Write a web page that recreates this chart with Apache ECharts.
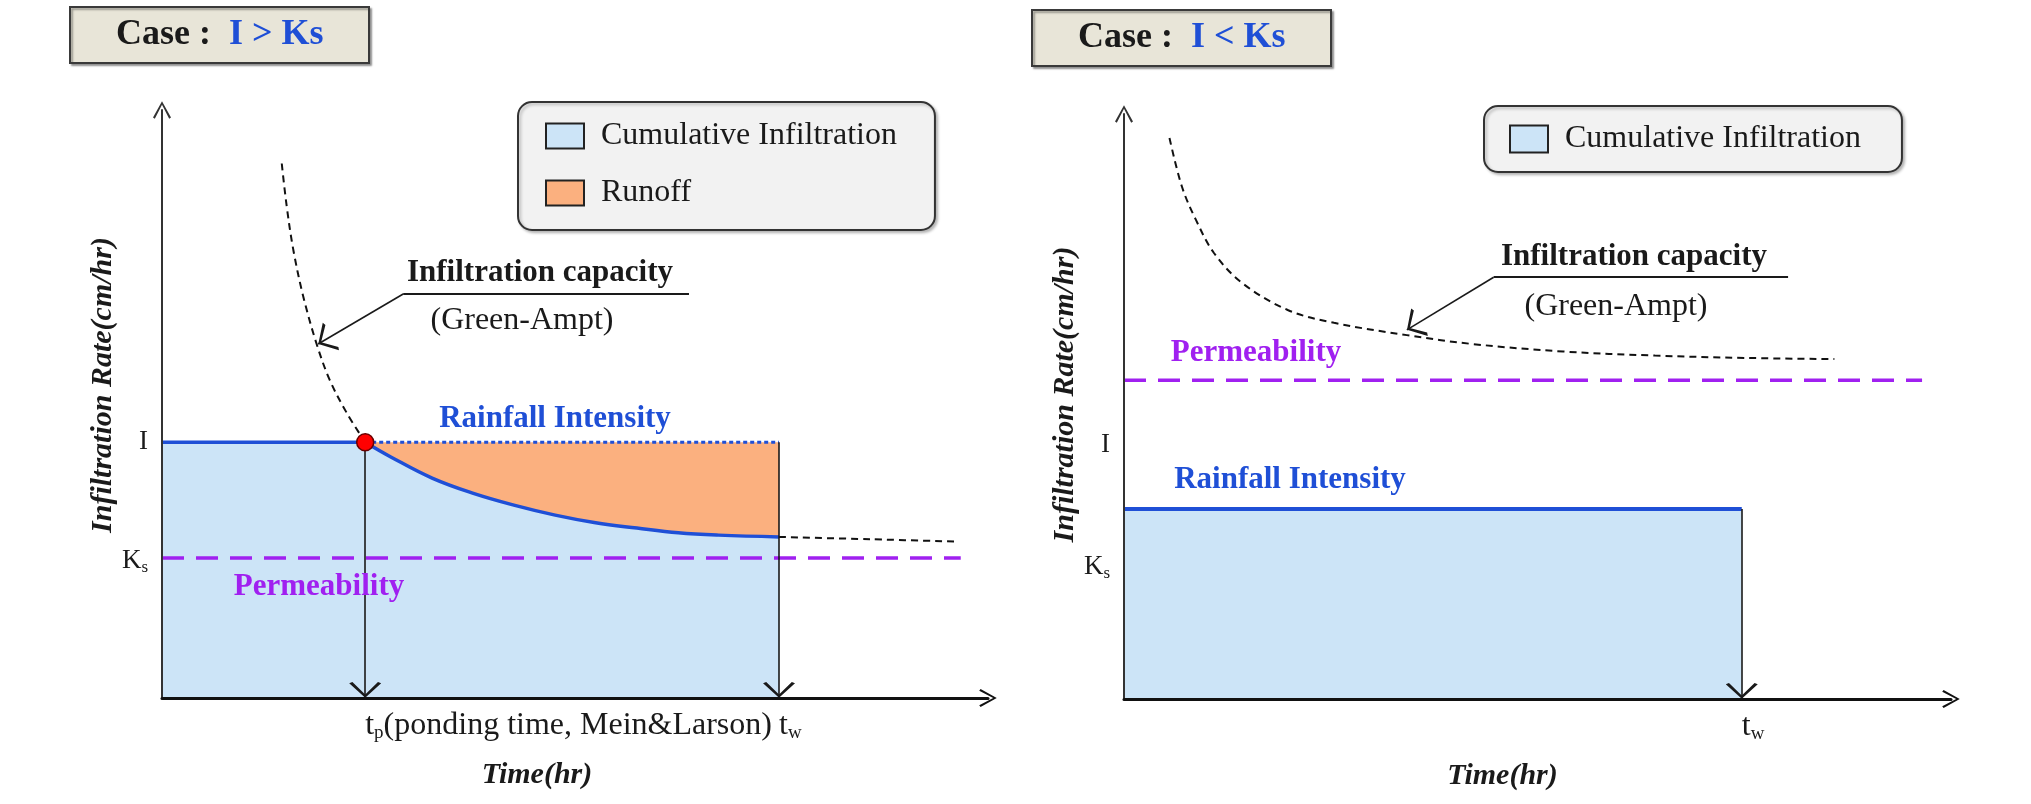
<!DOCTYPE html>
<html>
<head>
<meta charset="utf-8">
<title>Infiltration capacity - Green-Ampt</title>
<script src="https://cdn.jsdelivr.net/npm/echarts@6/dist/echarts.min.js"></script>
<style>
  html, body { margin: 0; padding: 0; background: #fff; }
  #chart { width: 2031px; height: 804px; }
</style>
</head>
<body>
<div id="chart"></div>
<script>
// ---- values (schematic units, both axes 0..10) ----
// left panel : case I > Ks
const rainI = 4.35;        // rainfall intensity I
const ksLeft = 2.38;       // permeability Ks
const tpLeft = 2.46;       // ponding time
const twLeft = 7.47;       // end of rain
const permEndLeft = 9.67;
// infiltration capacity before ponding (dashed)
const capBeforeX = [1.45, 1.51, 1.59, 1.71, 1.87, 2.03, 2.24, 2.46];
const capBeforeY = [9.09, 8.36, 7.62, 6.83, 6.03, 5.41, 4.84, 4.35];
// infiltration rate after ponding (solid blue)
const infAfterX = [2.46, 2.77, 3.27, 3.77, 4.26, 4.76, 5.25, 5.75, 6.25, 6.74, 7.47];
const infAfterY = [4.35, 4.10, 3.74, 3.48, 3.28, 3.11, 2.98, 2.89, 2.81, 2.77, 2.74];
// capacity after the rain stops (dashed)
const capAfterX = [7.47, 8.57, 9.65];
const capAfterY = [2.74, 2.70, 2.66];
// leader line of the "Infiltration capacity" note
const leaderLeftX = [6.38, 2.92, 1.89];
const leaderLeftY = [6.87, 6.87, 6.02];

// right panel : case I < Ks
const rainR = 3.25;
const ksRight = 5.45;
const twRight = 7.47;
const permEndRight = 9.65;
const capRightX = [0.55, 0.70, 0.87, 1.09, 1.43, 1.98, 2.54, 3.42, 4.20, 5.31, 6.42, 7.53, 8.59];
const capRightY = [9.59, 8.76, 8.19, 7.62, 7.11, 6.65, 6.43, 6.22, 6.07, 5.94, 5.87, 5.83, 5.81];
const leaderRightX = [8.03, 4.47, 3.42];
const leaderRightY = [7.21, 7.21, 6.31];

// tick labels
const yTicksLeft = [2.33, rainI];
const yTicksRight = [2.26, 4.35];
const yTickText = ['{k|K}{s|s}', '{k|I}'];
const xTicksLeft = [tpLeft, twLeft];
const xTickTextLeft = ['{t|t}{s|p}{t|(ponding time, Mein&Larson)}', '{t|t}{s|w}'];
const xTicksRight = [twRight];
const xTickTextRight = ['{t|t}{s|w}'];

// ---- styles ----
const SERIF = '"Liberation Serif", "Times New Roman", serif';
const INK = '#1a1a1a';
const BLUE = '#1f4fd6';
const BLUE_FILL = '#cce4f7';
const ORANGE = '#fbb07f';
const PURPLE = '#a020f0';
const AXIS_ARROW = 'path://M0,18 L10,0 L20,18 L18,19.5 L10,4 L2,19.5 Z';
// same chevron, tip at the centre of the box so it lands on the end point
const LINE_ARROW = 'path://M10,-20 M0,18 L10,0 L20,18 L18,19.5 L10,4 L2,19.5 Z';

const zip = (xs, ys) => xs.map((x, i) => [x, ys[i]]);

const chart = echarts.init(document.getElementById('chart'));

function xAxis(gridIndex, ticks, texts, shift) {
  return {
    type: 'value', gridIndex: gridIndex, min: 0, max: 10, z: 5,
    splitLine: { show: false }, axisTick: { show: false },
    axisLine: { onZero: false, symbol: ['none', AXIS_ARROW], symbolSize: [18, 18],
      lineStyle: { color: '#111', width: 3 } },
    axisLabel: {
      customValues: ticks, align: 'left', margin: 11,
      formatter: v => texts[ticks.indexOf(v)] || '',
      rich: {
        t: { fontFamily: SERIF, fontSize: 32, color: INK },
        s: { fontFamily: SERIF, fontSize: 19, color: INK, padding: [15, 0, 0, 0] }
      }
    },
    name: 'Time(hr)', nameLocation: 'middle', nameGap: 62,
    nameTextStyle: { fontFamily: SERIF, fontSize: 30, fontStyle: 'italic', fontWeight: 'bold',
      color: INK, padding: [0, shift * 2, 0, 0] }
  };
}

function yAxis(gridIndex, ticks, shift, gap) {
  return {
    type: 'value', gridIndex: gridIndex, min: 0, max: 10, z: 5,
    splitLine: { show: false }, axisTick: { show: false },
    axisLine: { onZero: false, symbol: ['none', AXIS_ARROW], symbolSize: [18, 18],
      lineStyle: { color: '#333', width: 2 } },
    axisLabel: {
      customValues: ticks, margin: 14,
      formatter: v => yTickText[ticks.indexOf(v)] || '',
      rich: {
        k: { fontFamily: SERIF, fontSize: 27, color: INK },
        s: { fontFamily: SERIF, fontSize: 17, color: INK, padding: [14, 0, 0, 0] }
      }
    },
    name: 'Infiltration Rate(cm/hr)', nameLocation: 'middle', nameRotate: 90, nameGap: gap,
    nameTextStyle: { fontFamily: SERIF, fontSize: 30, fontStyle: 'italic', fontWeight: 'bold',
      color: INK, padding: [0, 0, 0, shift * 2] }
  };
}

function dashedCurve(i, data) {
  return { type: 'line', xAxisIndex: i, yAxisIndex: i, data: data, symbol: 'none',
    smooth: 0.35, silent: true,
    lineStyle: { color: '#111', width: 2, type: [7, 5] } };
}
function blueArea(i, data, width, smooth) {
  return { name: 'Cumulative Infiltration', type: 'line', xAxisIndex: i, yAxisIndex: i,
    symbol: 'none', silent: true, smooth: smooth, data: data,
    itemStyle: { color: BLUE_FILL },
    lineStyle: { color: BLUE, width: width },
    areaStyle: { color: BLUE_FILL, opacity: 1 } };
}
function permLine(i, data) {
  return { type: 'line', xAxisIndex: i, yAxisIndex: i, data: data, symbol: 'none', silent: true,
    lineStyle: { color: PURPLE, width: 3.5, type: [22, 12] } };
}
function arrows(i, segs) {
  return { type: 'lines', coordinateSystem: 'cartesian2d', xAxisIndex: i, yAxisIndex: i, z: 4,
    silent: true, symbol: ['none', LINE_ARROW], symbolSize: [15, 32],
    lineStyle: { color: INK, width: 1.6, opacity: 1, curveness: 0 },
    data: segs.map(c => ({ coords: c })) };
}
function plainLine(i, segs) {
  return { type: 'lines', coordinateSystem: 'cartesian2d', xAxisIndex: i, yAxisIndex: i, z: 4,
    silent: true, symbol: 'none',
    lineStyle: { color: INK, width: 2, opacity: 1, curveness: 0 },
    data: segs.map(c => ({ coords: c })) };
}

function note(text, x, y, weight, size, color) {
  return { type: 'text', x: x, y: y, z: 100, silent: true,
    style: { text: text, font: weight + ' ' + size + 'px ' + SERIF, fill: color,
      align: 'center', verticalAlign: 'middle', textAlign: 'center', textVerticalAlign: 'middle' } };
}

function caseBox(left, top, rel) {
  return {
    left: left, top: top, text: '{k|Case :  }{v|' + rel + '}',
    padding: [10, 46, 10, 46], backgroundColor: '#e8e5d8', borderColor: '#3a3a3a', borderWidth: 2,
    shadowColor: 'rgba(0,0,0,0.35)', shadowOffsetX: 2, shadowOffsetY: 2, shadowBlur: 2,
    textStyle: { rich: {
      k: { fontFamily: SERIF, fontWeight: 'bold', fontSize: 36, lineHeight: 42, color: INK },
      v: { fontFamily: SERIF, fontWeight: 'bold', fontSize: 36, lineHeight: 42, color: BLUE }
    } }
  };
}

const legendItem = (name, color) => ({ name: name, icon: 'rect',
  itemStyle: { color: color, borderColor: '#222', borderWidth: 2 } });
const legendBase = {
  orient: 'vertical', selectedMode: false, itemWidth: 38, itemHeight: 25,
  backgroundColor: '#f2f2f2', borderColor: '#333', borderWidth: 2, borderRadius: 14,
  shadowColor: 'rgba(0,0,0,0.25)', shadowOffsetX: 2, shadowOffsetY: 2, shadowBlur: 3,
  textStyle: { fontFamily: SERIF, fontSize: 32, color: INK, lineHeight: 27, padding: [0, 0, 0, 12] }
};

const option = {
  animation: false,
  backgroundColor: '#fff',
  title: [caseBox(70, 4, 'I > Ks'), caseBox(1032, 7, 'I < Ks')],
  legend: [
    Object.assign({}, legendBase, { left: 518, top: 102, padding: [18, 38, 21, 27], itemGap: 25,
      data: [legendItem('Cumulative Infiltration', BLUE_FILL), legendItem('Runoff', ORANGE)] }),
    Object.assign({}, legendBase, { left: 1484, top: 106, padding: [17, 41, 17, 25], itemHeight: 27,
      data: [legendItem('Cumulative Infiltration', BLUE_FILL)] })
  ],
  grid: [
    { left: 162, top: 110, width: 826, height: 588 },
    { left: 1124, top: 114, width: 827, height: 585 }
  ],
  xAxis: [xAxis(0, xTicksLeft, xTickTextLeft, 38), xAxis(1, xTicksRight, xTickTextRight, 35)],
  yAxis: [yAxis(0, yTicksLeft, 19, 40), yAxis(1, yTicksRight, 12, 40)],
  graphic: [
    note('Infiltration capacity', 540, 273, 'bold', 31, INK),
    note('(Green-Ampt)', 522, 321, 'normal', 32, INK),
    note('Rainfall Intensity', 555, 419, 'bold', 31, BLUE),
    note('Permeability', 319, 587, 'bold', 31, PURPLE),
    note('Infiltration capacity', 1634, 257, 'bold', 31, INK),
    note('(Green-Ampt)', 1616, 307, 'normal', 32, INK),
    note('Permeability', 1256, 353, 'bold', 31, PURPLE),
    note('Rainfall Intensity', 1290, 480, 'bold', 31, BLUE)
  ],
  series: [
    // ---- left panel ----
    { name: 'Runoff', type: 'line', xAxisIndex: 0, yAxisIndex: 0, symbol: 'none', silent: true,
      data: [[tpLeft, rainI], [twLeft, rainI]],
      itemStyle: { color: ORANGE },
      lineStyle: { color: BLUE, width: 3, type: [4, 3] },
      areaStyle: { color: ORANGE, opacity: 1 } },
    blueArea(0, [[0, rainI], [tpLeft, rainI]], 3.5, false),
    blueArea(0, zip(infAfterX, infAfterY), 3.5, 0.4),
    dashedCurve(0, zip(capBeforeX, capBeforeY)),
    dashedCurve(0, zip(capAfterX, capAfterY)),
    permLine(0, [[0, ksLeft], [permEndLeft, ksLeft]]),
    plainLine(0, [[[leaderLeftX[0], leaderLeftY[0]], [leaderLeftX[1], leaderLeftY[1]]]]),
    arrows(0, [
      [[tpLeft, rainI], [tpLeft, 0]],
      [[twLeft, rainI], [twLeft, 0]],
      [[leaderLeftX[1], leaderLeftY[1]], [leaderLeftX[2], leaderLeftY[2]]]
    ]),
    { type: 'scatter', xAxisIndex: 0, yAxisIndex: 0, z: 6, silent: true,
      data: [[tpLeft, rainI]], symbolSize: 17,
      itemStyle: { color: '#ff0000', borderColor: '#6b0000', borderWidth: 1.5, opacity: 1 } },

    // ---- right panel ----
    blueArea(1, [[0, rainR], [twRight, rainR]], 4, false),
    dashedCurve(1, zip(capRightX, capRightY)),
    permLine(1, [[0, ksRight], [permEndRight, ksRight]]),
    plainLine(1, [[[leaderRightX[0], leaderRightY[0]], [leaderRightX[1], leaderRightY[1]]]]),
    arrows(1, [
      [[twRight, rainR], [twRight, 0]],
      [[leaderRightX[1], leaderRightY[1]], [leaderRightX[2], leaderRightY[2]]]
    ])
  ]
};

chart.setOption(option);
</script>
</body>
</html>
